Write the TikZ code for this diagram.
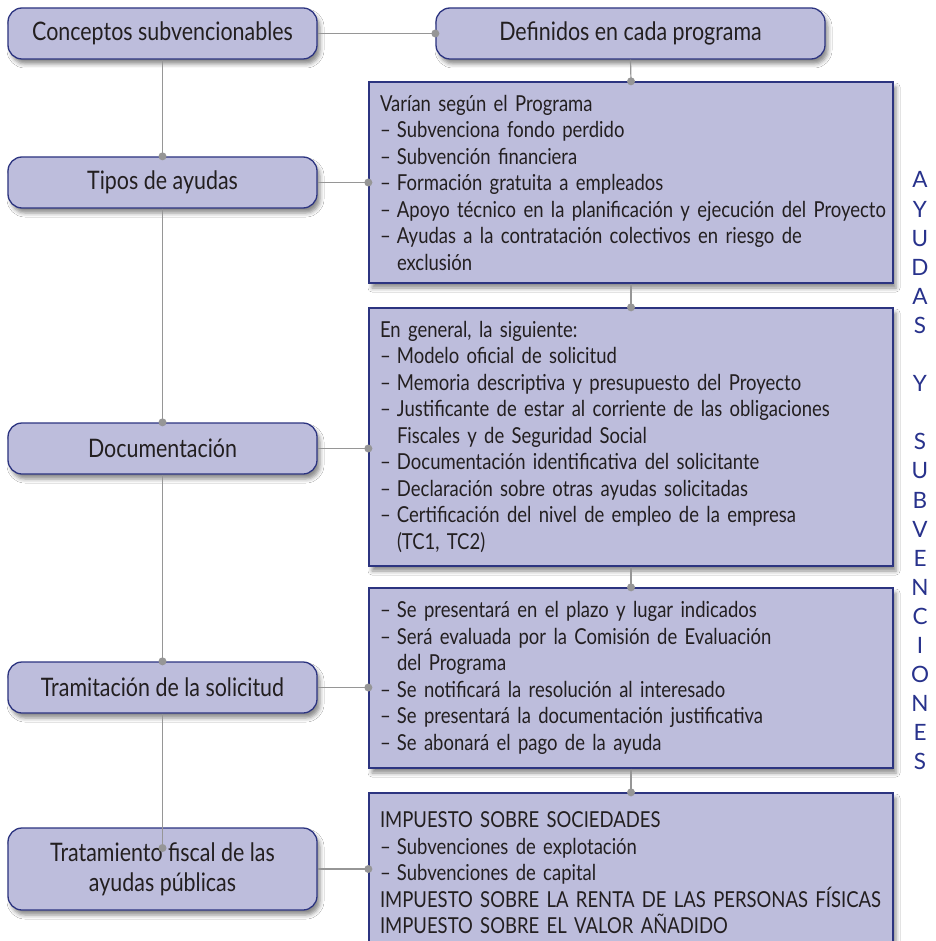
\documentclass[tikz,border=0pt]{standalone}
\usepackage{fontspec}
\setmainfont[FakeStretch=0.84]{Lato}
\newfontfamily\sidefont{Lato}
\usetikzlibrary{shadows.blur}
\definecolor{boxfill}{RGB}{189,189,220}
\definecolor{boxline}{RGB}{44,52,128}
\definecolor{conngray}{RGB}{150,150,150}
\definecolor{txt}{RGB}{35,31,32}
\definecolor{sidecol}{RGB}{40,50,140}
\newcommand\lstitm[1]{\mbox{\makebox[17pt][l]{–}#1}}
\newcommand\lstctn[1]{\hspace*{17pt}#1}
\begin{document}
\begin{tikzpicture}[x=1pt,y=-1pt,
 shadowed/.style={blur shadow={shadow xshift=3pt,shadow yshift=-5pt,shadow blur radius=4pt,shadow opacity=45}},
 leftbox/.style={draw=boxline, line width=1.3pt, fill=boxfill, rounded corners=14pt, minimum width=309pt, minimum height=51pt, inner sep=0pt, font=\fontsize{25.5}{30}\selectfont, text=txt, align=center, shadowed},
 listbox/.style={draw=boxline, line width=1.3pt, fill=boxfill, minimum width=524pt, text width=502pt, inner xsep=11pt, inner ysep=0pt, align=left, font=\fontsize{22}{26.5}\selectfont, text=txt, shadowed},
 conn/.style={draw=conngray, line width=1.2pt},
 dotst/.style={fill=conngray},
 sideletters/.style={text=sidecol, font=\sidefont\fontsize{22.5}{29.1}\selectfont, align=center, inner sep=0pt}]
\clip (0,0) rectangle (935,941);
\fill[white] (0,0) rectangle (935,941);
% left column
\node[leftbox] (cs) at (162.5,33.5) {Conceptos subvencionables};
\node[leftbox] (ta) at (162.5,182.5) {Tipos de ayudas};
\node[leftbox] (doc) at (162.5,448.5) {Documentación};
\node[leftbox] (tram) at (162.5,687.5) {Tramitación de la solicitud};
\node[leftbox, minimum height=82pt] (trat) at (162.5,869) {Tratamiento fiscal de las\\ayudas públicas};
% right column
\node[leftbox, minimum width=389pt] (def) at (630.5,33.5) {Definidos en cada programa};
\node[listbox, minimum height=201pt] (b1) at (631,182.5) {Varían según el Programa\\
\lstitm{Subvenciona fondo perdido}\\
\lstitm{Subvención financiera}\\
\lstitm{Formación gratuita a empleados}\\
\lstitm{Apoyo técnico en la planificación y ejecución del Proyecto}\\
\lstitm{Ayudas a la contratación colectivos en riesgo de}\\
\lstctn{exclusión}};
\node[listbox, minimum height=258pt] (b2) at (631,437) {En general, la siguiente:\\
\lstitm{Modelo oficial de solicitud}\\
\lstitm{Memoria descriptiva y presupuesto del Proyecto}\\
\lstitm{Justificante de estar al corriente de las obligaciones}\\
\lstctn{Fiscales y de Seguridad Social}\\
\lstitm{Documentación identificativa del solicitante}\\
\lstitm{Declaración sobre otras ayudas solicitadas}\\
\lstitm{Certificación del nivel de empleo de la empresa}\\
\lstctn{(TC1, TC2)}};
\node[listbox, minimum height=180pt] (b3) at (631,678) {\lstitm{Se presentará en el plazo y lugar indicados}\\
\lstitm{Será evaluada por la Comisión de Evaluación}\\
\lstctn{del Programa}\\
\lstitm{Se notificará la resolución al interesado}\\
\lstitm{Se presentará la documentación justificativa}\\
\lstitm{Se abonará el pago de la ayuda}};
\node[listbox, minimum height=160pt] (b4) at (631,873) {IMPUESTO SOBRE SOCIEDADES\\
\lstitm{Subvenciones de explotación}\\
\lstitm{Subvenciones de capital}\\
IMPUESTO SOBRE LA RENTA DE LAS PERSONAS FÍSICAS\\
IMPUESTO SOBRE EL VALOR AÑADIDO};
% side letters
\node[sideletters] (side) at (920,471) {A\\Y\\U\\D\\A\\S\\\mbox{}\\Y\\\mbox{}\\S\\U\\B\\V\\E\\N\\C\\I\\O\\N\\E\\S};
% connectors
\coordinate (tratdot) at (162.5,848);
\draw[conn] (cs.east) -- (def.west);
\fill[dotst] (def.west) circle[radius=4];
\draw[conn] (def.south) -- (b1.north);
\fill[dotst] (b1.north) circle[radius=4];
\draw[conn] (b1.south) -- (b2.north);
\fill[dotst] (b2.north) circle[radius=4];
\draw[conn] (b2.south) -- (b3.north);
\fill[dotst] (b3.north) circle[radius=4];
\draw[conn] (b3.south) -- (b4.north);
\fill[dotst] (b4.north) circle[radius=4];
\draw[conn] (cs.south) -- (ta.north);
\fill[dotst] (ta.north) circle[radius=4];
\draw[conn] (ta.south) -- (doc.north);
\fill[dotst] (doc.north) circle[radius=4];
\draw[conn] (doc.south) -- (tram.north);
\fill[dotst] (tram.north) circle[radius=4];
\draw[conn] (tram.south) -- (tratdot);
\fill[dotst] (tratdot) circle[radius=4];
\draw[conn] (ta.east) -- (b1.west |- ta.east);
\fill[dotst] (b1.west |- ta.east) circle[radius=4];
\draw[conn] (doc.east) -- (b2.west |- doc.east);
\fill[dotst] (b2.west |- doc.east) circle[radius=4];
\draw[conn] (tram.east) -- (b3.west |- tram.east);
\fill[dotst] (b3.west |- tram.east) circle[radius=4];
\draw[conn] (trat.east) -- (b4.west |- trat.east);
\fill[dotst] (b4.west |- trat.east) circle[radius=4];
\end{tikzpicture}
\end{document}
